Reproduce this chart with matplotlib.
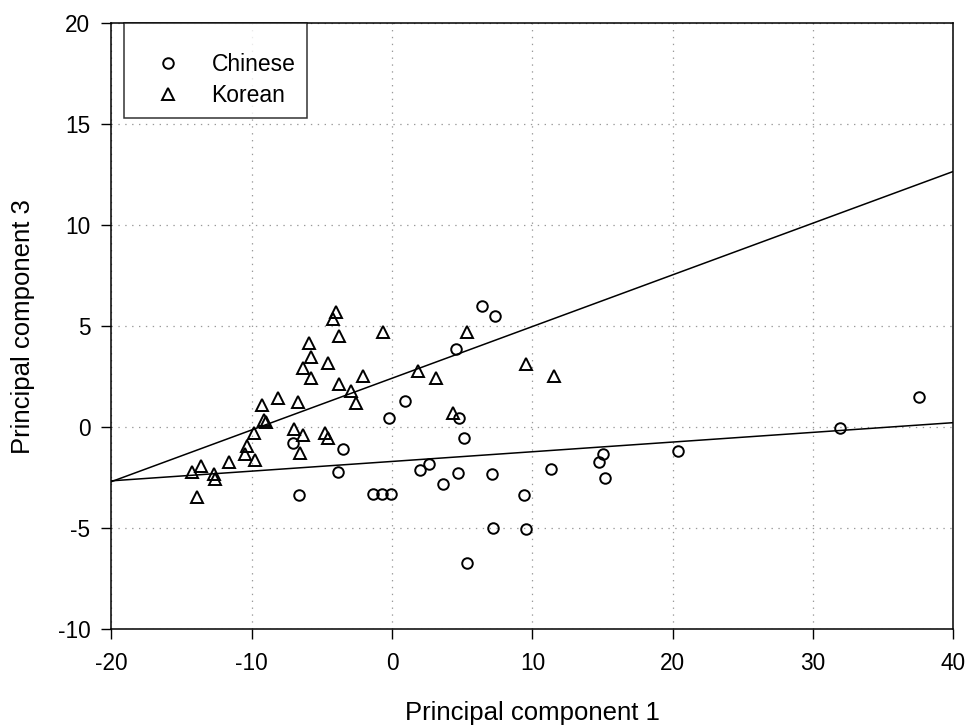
import numpy as np
import matplotlib
matplotlib.use('Agg')
import matplotlib.pyplot as plt

plt.rcParams['font.family'] = ['Liberation Sans', 'DejaVu Sans']
plt.rcParams['axes.unicode_minus'] = False

# 中国人样本 (PC1, PC3)
chinese_pc1 = [-7.03, -3.49, -0.24, -3.87, -6.61, -1.33, -0.70, -0.08, 0.93, 4.54,
               4.78, 5.13, 2.64, 2.02, 4.69, 7.13, 3.66, 7.16, 5.32, 9.43,
               9.55, 11.31, 15.06, 14.75, 15.18, 20.34, 31.93, 37.51, 6.44, 7.34]
chinese_pc3 = [-0.79, -1.08, 0.46, -2.21, -3.33, -3.31, -3.30, -3.30, 1.32, 3.88,
               0.44, -0.55, -1.82, -2.13, -2.28, -2.30, -2.82, -5.00, -6.70, -3.35,
               -5.03, -2.05, -1.34, -1.73, -2.49, -1.16, -0.05, 1.52, 6.02, 5.52]

# 韩国人样本 (PC1, PC3)
korean_pc1 = [-3.99, -4.23, -3.80, -0.62, -5.89, -5.79, -6.32, -4.58, -5.77, -2.04,
              -3.80, -2.90, -2.57, -8.15, -9.29, -6.68, -9.10, -9.00, -9.81, -6.96,
              -6.37, -4.78, -4.54, -10.31, -10.48, -9.77, -6.56, -11.60, -13.64, -14.28,
              -12.69, -12.62, -13.88, 1.83, 3.14, 4.33, 5.37, 9.53, 11.57]
korean_pc3 = [5.72, 5.35, 4.52, 4.73, 4.16, 3.50, 2.95, 3.20, 2.43, 2.54,
              2.14, 1.80, 1.22, 1.44, 1.10, 1.24, 0.38, 0.25, -0.27, -0.10,
              -0.38, -0.30, -0.55, -0.91, -1.34, -1.62, -1.26, -1.70, -1.92, -2.20,
              -2.31, -2.57, -3.47, 2.81, 2.44, 0.69, 4.72, 3.12, 2.54]

# 两条拟合直线 (截距, 斜率)
line_intercepts = [2.43, -1.69]
line_slopes = [0.256, 0.048]

xlim = (-20, 40)
ylim = (-10, 20)

fig = plt.figure(figsize=(9.68, 7.26), dpi=100)
ax = fig.add_axes([0.1151, 0.1332, 0.8699, 0.8347])

xs = np.array(xlim, dtype=float)
for b, k in zip(line_intercepts, line_slopes):
    ax.plot(xs, b + k * xs, color='black', lw=1.1, zorder=2)

ax.plot(chinese_pc1, chinese_pc3, 'o', ms=7.6, mfc='none', mec='black', mew=1.4,
        label='Chinese', zorder=3)
ax.plot(korean_pc1, korean_pc3, '^', ms=8.8, mfc='none', mec='black', mew=1.4,
        label='Korean', zorder=3)

ax.set_xlim(xlim)
ax.set_ylim(ylim)
ax.set_xticks(np.arange(-20, 41, 10))
ax.set_yticks(np.arange(-10, 21, 5))
ax.tick_params(direction='out', length=7.2, width=1.0, labelsize=16.3, pad=8, colors='black')
ax.tick_params(axis='x', pad=9)
for s in ax.spines.values():
    s.set_linewidth(1.1)

# 网格线 (点线)
ax.grid(True, color='#999999', lw=0.9, linestyle=(0, (1.1, 4.4)), zorder=0)

ax.set_xlabel('Principal component 1', fontsize=18.5, labelpad=19)
ax.set_ylabel('Principal component 3', fontsize=18.5, labelpad=16)

leg = ax.legend(loc='upper left', bbox_to_anchor=(0.0153, 1.0), borderaxespad=0,
                fontsize=16.5, frameon=True, fancybox=False, edgecolor='black',
                handlelength=2.8, handletextpad=0.5, labelspacing=0.35, borderpad=0.5,
                title=' ', title_fontsize=8)
leg.get_frame().set_linewidth(1.1)

fig.savefig('out.png', dpi=100)
